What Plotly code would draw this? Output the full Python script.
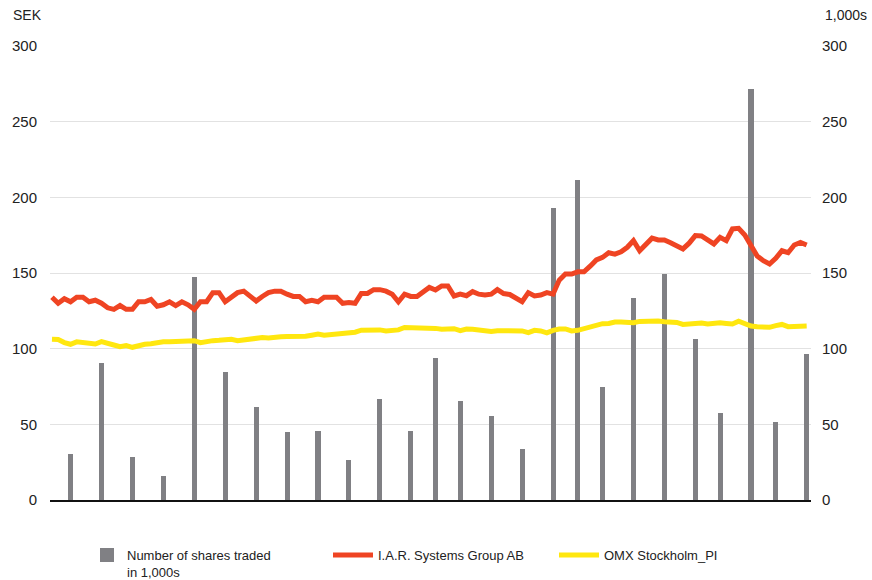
import plotly.graph_objects as go

# ---- data ----
weeks = list(range(123))
bar_weeks = [3, 8, 13, 18, 23, 28, 33, 38, 43, 48, 53, 58, 62, 66, 71, 76, 81, 85,
             89, 94, 99, 104, 108, 113, 117, 122]
shares_traded = [30, 90, 28, 15, 147, 84, 61, 44, 45, 26, 66, 45, 93, 65, 55, 33,
                 192, 211, 74, 133, 149, 106, 57, 271, 51, 96]
iar = [134, 130, 133, 131, 134, 134, 131, 132, 130, 127, 126, 128.5, 126, 126, 131, 131,
       132.5, 128, 129, 131, 128.5, 131, 129, 126, 131, 131, 137, 137, 131, 134.5, 137, 138,
       134.5, 131.5, 134.5, 137, 138, 138, 136, 134.5, 134.5, 131, 132, 131, 134, 134, 134,
       130, 130.5, 130, 136.5, 136.5, 139, 139, 138, 136, 131, 136, 134.5, 134.5, 137.5, 140.5,
       138.8, 141.4, 141.4, 134.8, 136, 135, 137.7, 136, 135.4, 136, 139, 136.4, 135.8, 133.2,
       131, 137, 134.8, 135.4, 137, 136, 145.3, 149.3, 149.3, 150.8, 150.8, 154.5, 158.6, 160.3,
       163.4, 162.5, 164, 167, 171.4, 164.7, 168.5, 173, 171.8, 171.8, 170, 167.9, 165.9, 169.7,
       174.7, 174.5, 171.4, 169.2, 173.6, 171.4, 179.1, 179.5, 175.1, 167.4, 161.2, 158.1, 155.9,
       159.7, 164.7, 163.4, 168.5, 170.2, 168.5]
omx = [106.2, 106, 104, 102.9, 104.5, 104, 103.8, 103.1, 104.6, 103.1, 102.4, 101.3, 102,
       100.9, 102.2, 102.9, 103.3, 104.2, 104.6, 104.6, 104.6, 104.9, 105.1, 105.3, 104, 104.9,
       105.3, 105.5, 105.5, 106.2, 105.3, 105.8, 106.6, 107.3, 107.3, 107.1, 107.1, 107.8, 108,
       108, 108.2, 108.2, 108.9, 109.6, 108.9, 109.3, 109.8, 110.4, 111.1, 110.9, 112.2, 112.4,
       112.4, 112.4, 111.7, 112.4, 112.4, 114, 114, 113.7, 114.2, 114.2,
       113.4, 112.8, 113, 113.2, 111.9, 113, 112.8, 112.3, 111.7, 111.4, 111.9, 111.9, 111.9,
       111.9, 111.7, 110.6, 112.1, 111.7, 110.4, 112.1, 113, 113, 111.7, 112.1, 113.4, 114.7,
       115.2, 116.5, 116.7, 117.6, 117.6, 117.1, 117.1, 118, 118.2, 118.2, 118.2, 117.8, 117.8,
       117.3, 116, 116.5, 116.9, 116.9, 116.3, 116.9, 117.1, 116.7, 116.3, 118.2, 116.5, 115,
       114.5, 114.5, 114.1, 115.2, 116, 114.5, 114.5, 114.5, 115]
y_ticks = [0, 50, 100, 150, 200, 250, 300]

FONT = "Liberation Sans, Arial, sans-serif"
GREY = "#808084"
RED = "#EF4423"
YELLOW = "#FFE70F"

fig = go.Figure()
fig.add_trace(go.Bar(x=bar_weeks, y=shares_traded, width=0.5, marker_color=GREY,
                     marker_line=dict(color=GREY, width=2), showlegend=True,
                     name="Number of shares traded<br>in 1,000s", yaxis="y",
                     legend="legend"))
fig.add_trace(go.Scatter(x=weeks, y=iar, mode="lines", line=dict(color=RED, width=5),
                         name="I.A.R. Systems Group AB", yaxis="y2", legend="legend2"))
fig.add_trace(go.Scatter(x=weeks, y=omx, mode="lines", line=dict(color=YELLOW, width=5),
                         name="OMX Stockholm_PI", yaxis="y2", legend="legend3"))

axis_font = dict(family=FONT, size=15, color="#222222")
leg_font = dict(family=FONT, size=13, color="#222222")
leg_y = 1 - 540 / 580

fig.update_layout(
    width=872, height=580,
    showlegend=True,
    margin=dict(l=50, r=61, t=46, b=80, autoexpand=False),
    plot_bgcolor="white", paper_bgcolor="white",
    bargap=0,
    xaxis=dict(range=[-0.32, 122.7], showticklabels=False, ticks="", showgrid=False,
               zeroline=False, showline=True, linecolor="#111111", linewidth=1.5),
    yaxis=dict(side="right", range=[0, 300], tickvals=y_ticks, showgrid=True,
               gridcolor="#E2E2E2", gridwidth=1, zeroline=False, tickfont=axis_font,
               ticks="", ticklabelstandoff=10, automargin=False),
    yaxis2=dict(side="left", overlaying="y", range=[0, 300], tickvals=y_ticks,
                showgrid=False, zeroline=False, tickfont=axis_font, ticks="",
                ticklabelstandoff=12, automargin=False),
    legend=dict(xref="container", yref="container", x=87/872, y=leg_y,
                xanchor="left", yanchor="top", font=leg_font, valign="top",
                itemwidth=30, bgcolor="rgba(0,0,0,0)", visible=True),
    legend2=dict(xref="container", yref="container", x=328/872, y=leg_y,
                 xanchor="left", yanchor="top", font=leg_font, itemwidth=40,
                 bgcolor="rgba(0,0,0,0)"),
    legend3=dict(xref="container", yref="container", x=554/872, y=leg_y,
                 xanchor="left", yanchor="top", font=leg_font, itemwidth=40,
                 bgcolor="rgba(0,0,0,0)"),
    annotations=[
        dict(text="SEK", xref="paper", yref="paper", x=0, y=1, xanchor="left",
             yanchor="middle", xshift=-39, yshift=31, showarrow=False,
             font=dict(family=FONT, size=14, color="#222222")),
        dict(text="1,000s", xref="paper", yref="paper", x=1, y=1, xanchor="right",
             yanchor="middle", xshift=58, yshift=31, showarrow=False,
             font=dict(family=FONT, size=14, color="#222222")),
    ],
)

fig.write_html("out.html")
